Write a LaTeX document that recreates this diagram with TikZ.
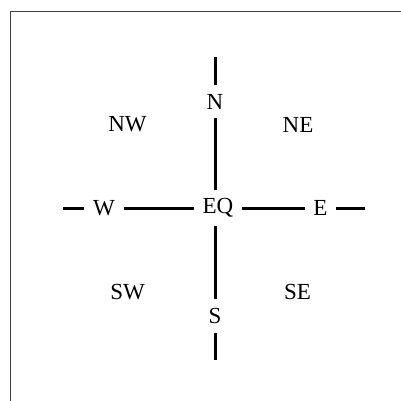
\documentclass[tikz,border=0pt]{standalone}
\usepackage{fontspec}
\setmainfont{Liberation Serif}
\begin{document}
\begin{tikzpicture}[x=1pt,y=-1pt,
  lbl/.style={inner sep=8.6pt, font=\fontsize{23}{25}\selectfont},
  corner/.style={inner sep=0pt, font=\fontsize{23}{25}\selectfont},
  conn/.style={line width=3pt},
  frame/.style={line width=0.9pt, draw=black!75}]
\useasboundingbox (0,0) rectangle (401,401);
\draw[frame] (401,11) -- (10,11) -- (10,401);
\node[lbl] (EQ) at (218,208) {EQ};
\node[lbl] (N) at (215,101.5) {N};
\node[lbl] (S) at (215,316) {S};
\node[lbl] (W) at (104,208) {W};
\node[lbl] (E) at (320.5,208) {E};
\node[corner] (NW) at (127.5,124.5) {NW};
\node[corner] (NE) at (298,124.5) {NE};
\node[corner] (SW) at (127.5,292) {SW};
\node[corner] (SE) at (297.5,292) {SE};
\coordinate (Nend) at (215,57);
\coordinate (Send) at (215,360);
\coordinate (Wend) at (63,208);
\coordinate (Eend) at (365,208);
\draw[conn] (N.south) -- (N.south |- EQ.north);
\draw[conn] (S.north) -- (S.north |- EQ.south);
\draw[conn] (W) -- (EQ);
\draw[conn] (EQ) -- (E);
\draw[conn] (N) -- (Nend);
\draw[conn] (S) -- (Send);
\draw[conn] (W) -- (Wend);
\draw[conn] (E) -- (Eend);
\end{tikzpicture}
\end{document}
